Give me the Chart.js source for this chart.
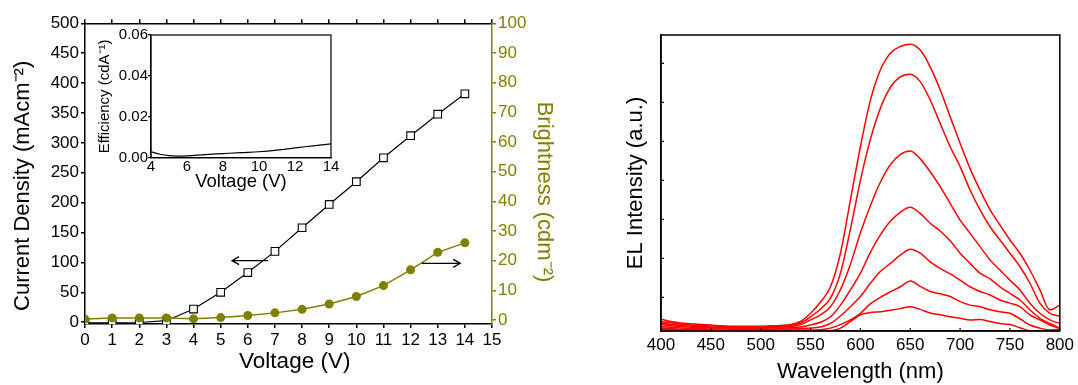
<!DOCTYPE html>
<html>
<head>
<meta charset="utf-8">
<script src="https://cdn.jsdelivr.net/npm/chart.js@4.4.1/dist/chart.umd.min.js"></script>
<style>
  html, body { margin: 0; padding: 0; background: #fff; }
  body { width: 1078px; height: 385px; position: relative; overflow: hidden; }
  canvas { position: absolute; }
  #ivChart { left: 0; top: 0; }
  #effChart { left: 90px; top: 25px; }
  #elChart { left: 600px; top: 0; }
</style>
</head>
<body>
<canvas id="ivChart" width="565" height="385"></canvas>
<canvas id="effChart" width="250" height="170"></canvas>
<canvas id="elChart" width="478" height="385"></canvas>
<script>
// J-V-L curve of the device
const voltage = [0, 1, 2, 3, 4, 5, 6, 7, 8, 9, 10, 11, 12, 13, 14];
const currentDensity = [-1, -1, -0.5, 2.5, 22, 50, 83, 118.5, 158, 197, 235, 275, 312, 348, 382];
const brightness = [0.3, 0.7, 0.7, 0.7, 0.4, 0.8, 1.5, 2.4, 3.6, 5.4, 7.9, 11.6, 16.9, 22.8, 26.0];

// arrows telling which axis belongs to which curve
const currentArrowX = [6.75, 5.42];
const currentArrowY = 103;
const brightArrowX = [12.41, 13.83];
const brightArrowY = 19.1;

// inset: current efficiency
const effVoltage = [4, 4.5, 5, 5.5, 6, 7, 8, 9, 10, 11, 12, 13, 14];
const efficiency = [0.0029, 0.0017, 0.0010, 0.0008, 0.0009, 0.0015, 0.0020, 0.0025, 0.0029, 0.0037, 0.0048, 0.0058, 0.0068];

// EL spectra at increasing drive voltage (a.u.)
const wavelength = [400, 410, 420, 430, 440, 450, 460, 470, 480, 490, 500, 510, 520, 530, 540, 550, 560, 570, 580, 590,
  600, 610, 620, 630, 640, 650, 660, 670, 680, 690, 700, 710, 720, 730, 740, 750, 760, 770, 780, 790, 800];
const el1 = [-0.56, -0.62, -0.66, -0.68, -0.70, -0.71, -0.73, -0.74, -0.74, -0.74, -0.74, -0.73, -0.72, -0.70, -0.62, -0.41, -0.12, 0.27, 1.13, 2.50,
  3.86, 5.05, 5.83, 6.26, 6.43, 6.49, 6.34, 5.91, 5.32, 4.63, 3.95, 3.30, 2.75, 2.25, 1.85, 1.47, 1.13, 0.70, 0.19, -0.32, -0.20];
const el2 = [-0.62, -0.66, -0.69, -0.71, -0.72, -0.73, -0.75, -0.76, -0.76, -0.76, -0.76, -0.75, -0.74, -0.72, -0.66, -0.50, -0.30, -0.02, 0.62, 1.75,
  3.00, 4.05, 4.85, 5.38, 5.65, 5.72, 5.53, 5.06, 4.46, 3.86, 3.35, 2.75, 2.24, 1.81, 1.47, 1.13, 0.79, 0.36, -0.15, -0.41, -0.48];
const el3 = [-0.66, -0.70, -0.72, -0.74, -0.75, -0.76, -0.77, -0.78, -0.78, -0.78, -0.78, -0.77, -0.76, -0.75, -0.70, -0.58, -0.45, -0.24, 0.20, 0.85,
  1.65, 2.35, 2.95, 3.40, 3.66, 3.75, 3.55, 3.22, 2.84, 2.41, 1.98, 1.64, 1.30, 0.96, 0.70, 0.44, 0.19, -0.15, -0.41, -0.58, -0.67];
const el4 = [-0.70, -0.73, -0.75, -0.77, -0.77, -0.78, -0.79, -0.79, -0.80, -0.80, -0.80, -0.79, -0.79, -0.78, -0.76, -0.71, -0.64, -0.50, -0.20, 0.19,
  0.62, 1.15, 1.60, 1.95, 2.18, 2.31, 2.15, 1.90, 1.70, 1.45, 1.13, 0.87, 0.62, 0.47, 0.27, 0.10, -0.07, -0.32, -0.54, -0.67, -0.79];
const el5 = [-0.75, -0.77, -0.79, -0.80, -0.80, -0.81, -0.81, -0.82, -0.82, -0.82, -0.82, -0.82, -0.81, -0.81, -0.80, -0.79, -0.76, -0.67, -0.48, -0.24,
  0.02, 0.36, 0.66, 0.87, 1.08, 1.23, 1.13, 0.91, 0.74, 0.60, 0.44, 0.27, 0.15, 0.06, -0.07, -0.15, -0.24, -0.45, -0.58, -0.71, -0.80];
const el6 = [-0.79, -0.80, -0.82, -0.83, -0.83, -0.84, -0.84, -0.84, -0.84, -0.84, -0.84, -0.84, -0.84, -0.84, -0.84, -0.84, -0.83, -0.79, -0.70, -0.58,
  -0.41, -0.17, 0.00, 0.14, 0.27, 0.42, 0.28, 0.15, 0.09, 0.02, -0.11, -0.20, -0.24, -0.32, -0.37, -0.41, -0.55, -0.71, -0.79, -0.84, -0.82];
const el7 = [-0.82, -0.83, -0.84, -0.85, -0.85, -0.86, -0.86, -0.86, -0.86, -0.86, -0.86, -0.86, -0.86, -0.86, -0.87, -0.88, -0.88, -0.86, -0.79, -0.62,
  -0.45, -0.39, -0.37, -0.33, -0.29, -0.24, -0.31, -0.40, -0.45, -0.50, -0.54, -0.58, -0.57, -0.62, -0.67, -0.70, -0.78, -0.86, -0.88, -0.88, -0.88];
const elSpectra = [el1, el2, el3, el4, el5, el6, el7];

const OLIVE = '#808000';
const FONT = "'Liberation Sans', Arial, sans-serif";
Chart.defaults.font.family = FONT;
Chart.defaults.color = '#000';

const xy = (xs, ys) => xs.map((x, i) => ({ x: x, y: ys[i] }));

// box around the plot area
const framePlugin = {
  id: 'frame',
  afterDraw(chart, args, opts) {
    const { ctx, chartArea: a } = chart;
    ctx.save();
    ctx.strokeStyle = '#000';
    ctx.lineWidth = opts.width || 1.5;
    ctx.strokeRect(a.left, a.top, a.right - a.left, a.bottom - a.top);
    ctx.restore();
  }
};

// short ticks pointing into the plot area
const innerTicks = {
  id: 'innerTicks',
  afterDatasetsDraw(chart, args, opts) {
    const { ctx, chartArea: a, scales } = chart;
    const len = opts.length || 3;
    ctx.save();
    ctx.strokeStyle = '#000';
    ctx.lineWidth = 1.2;
    ctx.beginPath();
    scales.x.ticks.forEach((t, i) => {
      const px = scales.x.getPixelForTick(i);
      ctx.moveTo(px, a.bottom);
      ctx.lineTo(px, a.bottom - len);
    });
    scales.y.ticks.forEach((t, i) => {
      const py = scales.y.getPixelForTick(i);
      ctx.moveTo(a.left, py);
      ctx.lineTo(a.left + len, py);
    });
    ctx.stroke();
    ctx.restore();
  }
};

// horizontal arrows, placed in data units
const arrowPlugin = {
  id: 'arrows',
  afterDatasetsDraw(chart, args, opts) {
    const ctx = chart.ctx;
    const xs = chart.scales.x;
    ctx.save();
    ctx.strokeStyle = '#000';
    ctx.lineWidth = 1.3;
    opts.items.forEach(a => {
      const ys = chart.scales[a.axis];
      const x0 = xs.getPixelForValue(a.x[0]);
      const x1 = xs.getPixelForValue(a.x[1]);
      const y = ys.getPixelForValue(a.y);
      const dir = Math.sign(x1 - x0);
      ctx.beginPath();
      ctx.moveTo(x0, y);
      ctx.lineTo(x1, y);
      ctx.moveTo(x1 - dir * 7, y - 4);
      ctx.lineTo(x1, y);
      ctx.lineTo(x1 - dir * 7, y + 4);
      ctx.stroke();
    });
    ctx.restore();
  }
};

const tickFont = { family: FONT, size: 17 };
const titleFont = { family: FONT, size: 22 };

new Chart(document.getElementById('ivChart'), {
  type: 'line',
  data: {
    datasets: [
      {
        label: 'Brightness',
        data: xy(voltage, brightness),
        yAxisID: 'y2',
        order: 0,
        borderColor: OLIVE,
        borderWidth: 1.5,
        backgroundColor: OLIVE,
        pointStyle: 'circle',
        pointRadius: 4.5,
        pointBorderWidth: 0,
        tension: 0
      },
      {
        label: 'Current Density',
        data: xy(voltage, currentDensity),
        yAxisID: 'y',
        order: 1,
        borderColor: '#000',
        borderWidth: 1.2,
        backgroundColor: '#fff',
        pointStyle: 'rect',
        pointRadius: 5.4,
        pointBorderColor: '#000',
        pointBorderWidth: 1.1,
        tension: 0
      }
    ]
  },
  options: {
    responsive: false,
    animation: false,
    events: [],
    layout: { padding: 0 },
    plugins: {
      legend: { display: false },
      tooltip: { enabled: false },
      arrows: {
        items: [
          { axis: 'y', x: currentArrowX, y: currentArrowY },
          { axis: 'y2', x: brightArrowX, y: brightArrowY }
        ]
      }
    },
    scales: {
      x: {
        type: 'linear', position: 'bottom', min: 0, max: 15,
        ticks: { stepSize: 1, autoSkip: false, maxRotation: 0, padding: 2, font: tickFont, color: '#000' },
        grid: { drawOnChartArea: false, tickLength: 4, color: '#000', lineWidth: 1.5 },
        border: { color: '#000', width: 1.5 },
        title: { display: true, text: '  Voltage (V)', font: { family: FONT, size: 22.5 }, color: '#000', padding: { top: 0, bottom: 9.5 } },
        afterFit: s => { s.height = 61; }
      },
      xTop: {
        type: 'linear', position: 'top', min: 0, max: 15,
        ticks: { stepSize: 1, display: false },
        grid: { drawOnChartArea: false, tickLength: 4, color: '#000', lineWidth: 1.5 },
        border: { color: '#000', width: 1.5 },
        afterFit: s => { s.height = 23.3; }
      },
      y: {
        type: 'linear', position: 'left', min: -3, max: 500,
        ticks: { stepSize: 50, includeBounds: false, padding: 2, font: tickFont, color: '#000' },
        grid: { drawOnChartArea: false, tickLength: 4, color: '#000', lineWidth: 1.5 },
        border: { color: '#000', width: 1.5 },
        title: { display: true, text: 'Current Density (mAcm⁻²)    ', font: titleFont, color: '#000', padding: { top: 10, bottom: 0 } },
        afterFit: s => { s.width = 85; }
      },
      y2: {
        type: 'linear', position: 'right', min: -1.35, max: 100,
        ticks: { stepSize: 10, includeBounds: false, padding: 2, font: tickFont, color: OLIVE },
        grid: { drawOnChartArea: false, tickLength: 4, color: OLIVE, lineWidth: 1.5 },
        border: { color: OLIVE, width: 1.5 },
        title: { display: true, text: '      Brightness (cdm⁻²)', font: titleFont, color: OLIVE, padding: { top: 8, bottom: 0 } },
        afterFit: s => { s.width = 73; }
      }
    }
  },
  plugins: [arrowPlugin]
});

new Chart(document.getElementById('effChart'), {
  type: 'line',
  data: {
    datasets: [{
      data: xy(effVoltage, efficiency),
      borderColor: '#000',
      borderWidth: 1.2,
      pointRadius: 0,
      cubicInterpolationMode: 'monotone'
    }]
  },
  options: {
    responsive: false,
    animation: false,
    events: [],
    layout: { padding: { top: 10, right: 9, left: 0, bottom: 0 } },
    plugins: { legend: { display: false }, tooltip: { enabled: false }, frame: { width: 1.2 } },
    scales: {
      x: {
        type: 'linear', min: 4, max: 14,
        ticks: { stepSize: 2, autoSkip: false, maxRotation: 0, padding: 0, font: { family: FONT, size: 15 }, color: '#000' },
        grid: { drawOnChartArea: false, drawTicks: false },
        border: { color: '#000', width: 1.2 },
        title: { display: true, text: 'Voltage (V)', font: { family: FONT, size: 18.5 }, color: '#000', padding: { top: 0, bottom: 1.5 } },
        afterFit: s => { s.height = 37.3; }
      },
      y: {
        type: 'linear', min: 0, max: 0.06,
        ticks: { stepSize: 0.02, padding: 0, font: { family: FONT, size: 15 }, color: '#000', callback: v => v.toFixed(2) },
        grid: { drawOnChartArea: false, tickLength: 3, color: '#000', lineWidth: 1.2 },
        border: { color: '#000', width: 1.2 },
        title: { display: true, text: 'Efficiency (cdA⁻¹)', font: { family: FONT, size: 15 }, color: '#000', padding: { top: 6.2, bottom: 0 } },
        afterFit: s => { s.width = 61; }
      }
    }
  },
  plugins: [framePlugin]
});

new Chart(document.getElementById('elChart'), {
  type: 'line',
  data: {
    datasets: elSpectra.map(s => ({
      data: xy(wavelength, s),
      borderColor: '#ff0000',
      borderWidth: 1.5,
      pointRadius: 0,
      cubicInterpolationMode: 'monotone'
    }))
  },
  options: {
    responsive: false,
    animation: false,
    events: [],
    layout: { padding: { top: 35, right: 17, left: 0, bottom: 0 } },
    plugins: { legend: { display: false }, tooltip: { enabled: false }, frame: { width: 1.5 }, innerTicks: { length: 3 } },
    scales: {
      x: {
        type: 'linear', min: 400, max: 800,
        ticks: { stepSize: 50, autoSkip: false, maxRotation: 0, padding: 4, font: tickFont, color: '#000' },
        grid: { drawOnChartArea: false, drawTicks: false },
        border: { color: '#000', width: 1.5 },
        title: { display: true, text: 'Wavelength (nm)', font: titleFont, color: '#000', padding: { top: 0, bottom: 0 } },
        afterFit: s => { s.height = 54; }
      },
      y: {
        type: 'linear', min: -0.864, max: 6.726,
        ticks: { stepSize: 1, includeBounds: false, display: false },
        grid: { drawOnChartArea: false, drawTicks: false },
        border: { color: '#000', width: 1.5 },
        title: { display: true, text: 'EL Intensity (a.u.)', font: titleFont, color: '#000', padding: { top: 23, bottom: 0 } },
        afterFit: s => { s.width = 61; }
      }
    }
  },
  plugins: [framePlugin, innerTicks]
});
</script>
</body>
</html>
